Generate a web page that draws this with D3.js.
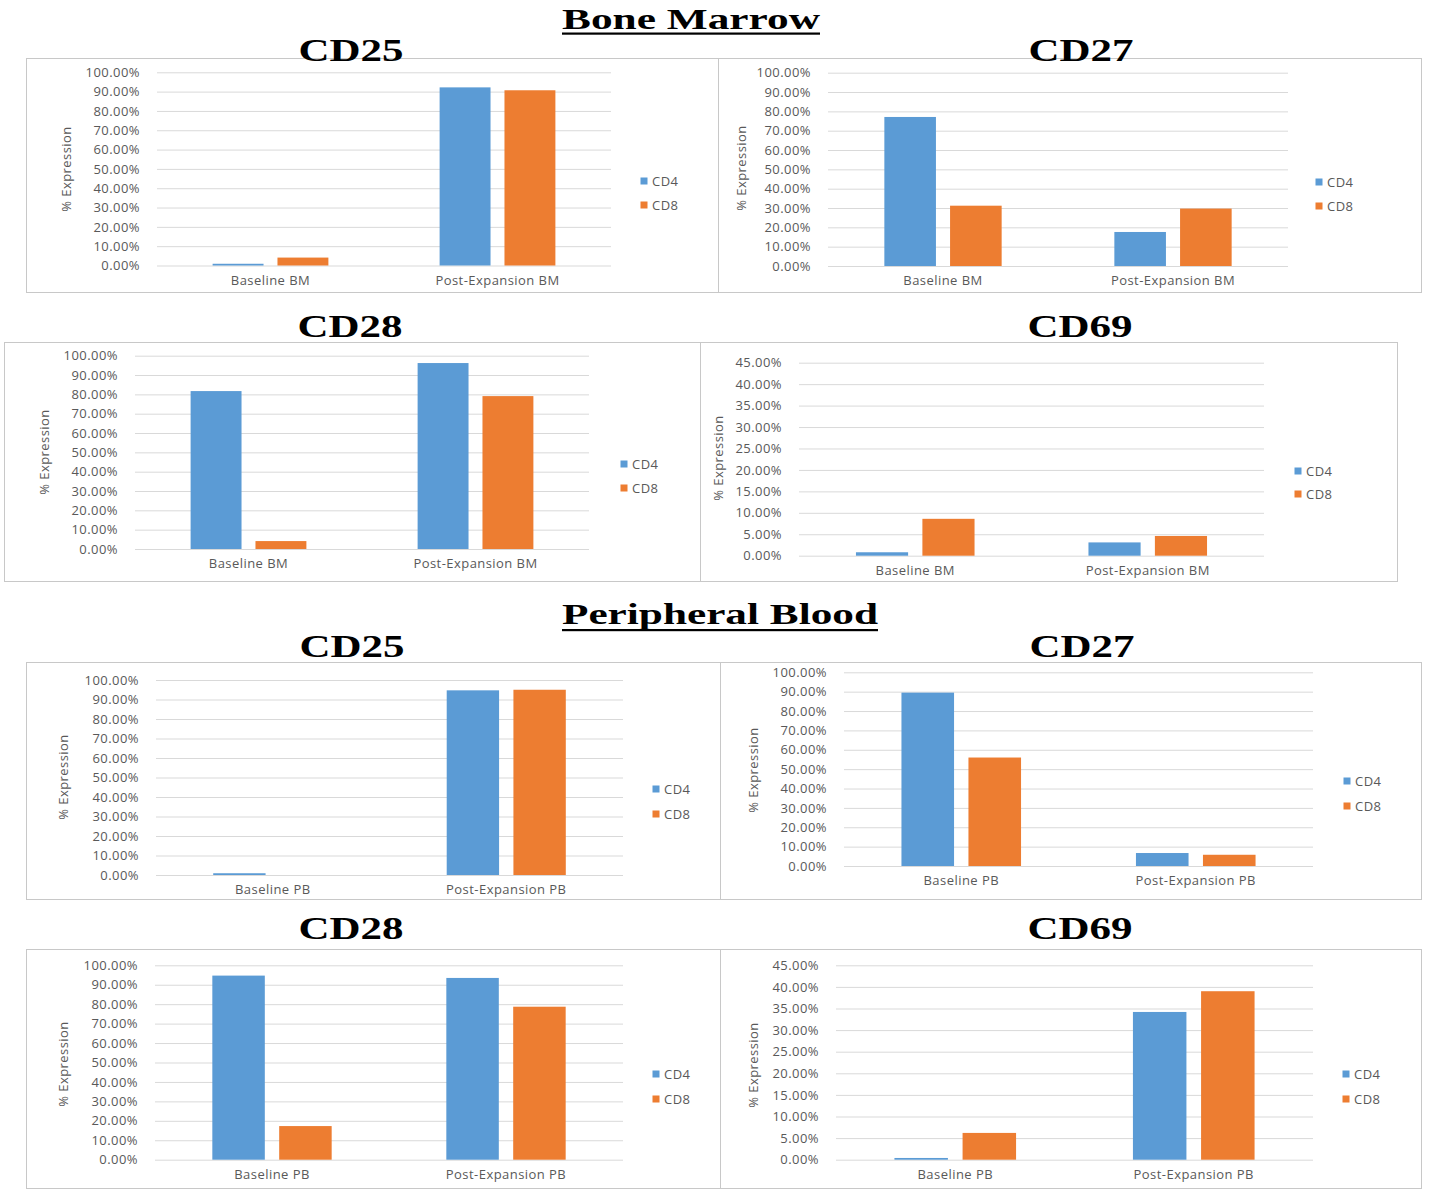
<!DOCTYPE html>
<html><head><meta charset="utf-8">
<script src="https://cdn.jsdelivr.net/npm/d3@7"></script>
<style>
html,body{margin:0;padding:0;background:#fff;}
svg{display:block;}
</style></head>
<body>
<svg id="chart" width="1431" height="1192"></svg>
<script>
// ---------- DATA ----------
const categoriesBM = ["Baseline BM", "Post-Expansion BM"];
const categoriesPB = ["Baseline PB", "Post-Expansion PB"];
const seriesNames = ["CD4", "CD8"];
const ticks100 = [0, 10, 20, 30, 40, 50, 60, 70, 80, 90, 100];
const ticks45 = [0, 5, 10, 15, 20, 25, 30, 35, 40, 45];

const bmCD25_CD4 = [0.9, 92.2];
const bmCD25_CD8 = [4.1, 90.7];
const bmCD27_CD4 = [77.1, 17.6];
const bmCD27_CD8 = [31.2, 29.7];
const bmCD28_CD4 = [81.7, 96.2];
const bmCD28_CD8 = [4.1, 79.1];
const bmCD69_CD4 = [0.8, 3.1];
const bmCD69_CD8 = [8.6, 4.6];

const pbCD25_CD4 = [0.9, 94.7];
const pbCD25_CD8 = [0.0, 95.0];
const pbCD27_CD4 = [89.5, 6.7];
const pbCD27_CD8 = [56.0, 5.8];
const pbCD28_CD4 = [94.7, 93.5];
const pbCD28_CD8 = [17.3, 78.7];
const pbCD69_CD4 = [0.4, 34.2];
const pbCD69_CD8 = [6.2, 39.0];

// ---------- LAYOUT ----------
const colors = {CD4: "#5B9BD5", CD8: "#ED7D31"};
const textGray = "#595959";
const gridGray = "#D9D9D9";
const sansFont = "'Open Sans', 'Liberation Sans', sans-serif";
const serifFont = "'Liberation Serif', 'DejaVu Serif', serif";
const labelSize = "13px";
const labelSpacing = "0.45px";

const panels = [
  {title:"CD25", tx:351, ty:61, box:[26,58,718,292], xl:157, xr:611, y0:265.5, yT:72.3, max:100, ticks:ticks100,
   cats:categoriesBM, cd4:bmCD25_CD4, cd8:bmCD25_CD8, ytx:66, yty:169, lx:644, ly:[181,205]},
  {title:"CD27", tx:1081, ty:61, box:[718,58,1421,292], xl:828, xr:1288, y0:266, yT:72.7, max:100, ticks:ticks100,
   cats:categoriesBM, cd4:bmCD27_CD4, cd8:bmCD27_CD8, ytx:741, yty:168, lx:1319, ly:[182,206]},
  {title:"CD28", tx:350, ty:337, box:[4,342,700,581], xl:135, xr:589, y0:549, yT:355.7, max:100, ticks:ticks100,
   cats:categoriesBM, cd4:bmCD28_CD4, cd8:bmCD28_CD8, ytx:44, yty:452, lx:624, ly:[464,488]},
  {title:"CD69", tx:1080, ty:337, box:[700,342,1397,581], xl:799, xr:1264, y0:555.7, yT:362.7, max:45, ticks:ticks45,
   cats:categoriesBM, cd4:bmCD69_CD4, cd8:bmCD69_CD8, ytx:718, yty:458, lx:1298, ly:[471,494]},
  {title:"CD25", tx:352, ty:657, box:[26,662,720,899], xl:156, xr:623, y0:875, yT:680, max:100, ticks:ticks100,
   cats:categoriesPB, cd4:pbCD25_CD4, cd8:pbCD25_CD8, ytx:63, yty:777, lx:656, ly:[789,814]},
  {title:"CD27", tx:1082, ty:657, box:[720,662,1421,899], xl:844, xr:1313, y0:866, yT:672.3, max:100, ticks:ticks100,
   cats:categoriesPB, cd4:pbCD27_CD4, cd8:pbCD27_CD8, ytx:753, yty:770, lx:1347, ly:[781,806]},
  {title:"CD28", tx:351, ty:939, box:[26,949,720,1188], xl:155, xr:623, y0:1159.7, yT:965.3, max:100, ticks:ticks100,
   cats:categoriesPB, cd4:pbCD28_CD4, cd8:pbCD28_CD8, ytx:63, yty:1064, lx:656, ly:[1074,1099]},
  {title:"CD69", tx:1080, ty:939, box:[720,949,1421,1188], xl:836, xr:1313, y0:1159.7, yT:965.3, max:45, ticks:ticks45,
   cats:categoriesPB, cd4:pbCD69_CD4, cd8:pbCD69_CD8, ytx:753, yty:1065, lx:1346, ly:[1074,1099]}
];

const svg = d3.select("#chart");
svg.append("rect").attr("width",1431).attr("height",1192).attr("fill","#fff");

// boxes first
panels.forEach(p => {
  const [x0,y0,x1,y1] = p.box;
  svg.append("rect").attr("x",x0+0.5).attr("y",y0+0.5).attr("width",x1-x0).attr("height",y1-y0)
    .attr("fill","none").attr("stroke","#C8C8C8").attr("stroke-width",1);
});

function styleLabel(sel) {
  sel.attr("fill",textGray).attr("font-family",sansFont).attr("font-size",labelSize)
     .attr("letter-spacing",labelSpacing);
}

panels.forEach(p => {
  const g = svg.append("g");
  const y = d3.scaleLinear().domain([0,p.max]).range([p.y0,p.yT]);
  const x0 = d3.scaleBand().domain(p.cats).range([p.xl,p.xr]).padding(0);
  const bw = x0.bandwidth();
  const groupW = bw*0.51;
  const x1 = d3.scaleBand().domain(seriesNames).range([bw/2-groupW/2, bw/2+groupW/2]).paddingInner(0.215).paddingOuter(0);

  // y axis with gridlines
  const yAxis = d3.axisLeft(y).tickValues(p.ticks).tickFormat(d => d.toFixed(2) + "%")
    .tickSizeInner(-(p.xr-p.xl)).tickSizeOuter(0).tickPadding(17);
  const ya = g.append("g").attr("transform",`translate(${p.xl},0)`).call(yAxis);
  ya.select(".domain").remove();
  ya.selectAll(".tick line").attr("stroke",gridGray).attr("stroke-width",1);
  styleLabel(ya.selectAll(".tick text"));

  // bars
  const rows = p.cats.map((c,i) => ({cat:c, CD4:p.cd4[i], CD8:p.cd8[i]}));
  const grp = g.selectAll("g.cat").data(rows).join("g").attr("class","cat")
    .attr("transform", d => `translate(${x0(d.cat)},0)`);
  grp.selectAll("rect").data(d => seriesNames.map(s => ({s, v:d[s]}))).join("rect")
    .attr("x", d => x1(d.s)).attr("width", x1.bandwidth())
    .attr("y", d => y(d.v)).attr("height", d => y(0)-y(d.v))
    .attr("fill", d => colors[d.s]);

  // x axis labels
  const xAxis = d3.axisBottom(x0).tickSize(0).tickPadding(10);
  const xa = g.append("g").attr("transform",`translate(0,${p.y0})`).call(xAxis);
  xa.select(".domain").remove();
  styleLabel(xa.selectAll(".tick text"));

  // y title
  styleLabel(g.append("text").attr("transform",`translate(${p.ytx},${p.yty}) rotate(-90)`)
    .attr("text-anchor","middle").attr("dy","0.35em").text("% Expression"));

  // legend
  seriesNames.forEach((s,i) => {
    g.append("rect").attr("x",p.lx-3.5).attr("y",p.ly[i]-3.5).attr("width",7).attr("height",7).attr("fill",colors[s]);
    styleLabel(g.append("text").attr("x",p.lx+8).attr("y",p.ly[i]).attr("dy","0.36em").text(s));
  });

  // panel title
  svg.append("text").attr("x",p.tx).attr("y",p.ty).attr("text-anchor","middle")
    .attr("font-family",serifFont).attr("font-weight","bold").attr("font-size","32px")
    .attr("textLength",105).attr("lengthAdjust","spacingAndGlyphs").attr("fill","#000").text(p.title);
});

// section headings
const sections = [
  {text:"Bone Marrow", x0:562, x1:820, y:29, uy:33.5},
  {text:"Peripheral Blood", x0:562, x1:878, y:624, uy:630}
];
sections.forEach(s => {
  svg.append("text").attr("x",s.x0).attr("y",s.y)
    .attr("font-family",serifFont).attr("font-weight","bold").attr("font-size","30px")
    .attr("textLength",s.x1-s.x0).attr("lengthAdjust","spacingAndGlyphs").attr("fill","#000").text(s.text);
  svg.append("rect").attr("x",s.x0).attr("y",s.uy-1).attr("width",s.x1-s.x0).attr("height",2.2).attr("fill","#000");
});
</script>
</body></html>
